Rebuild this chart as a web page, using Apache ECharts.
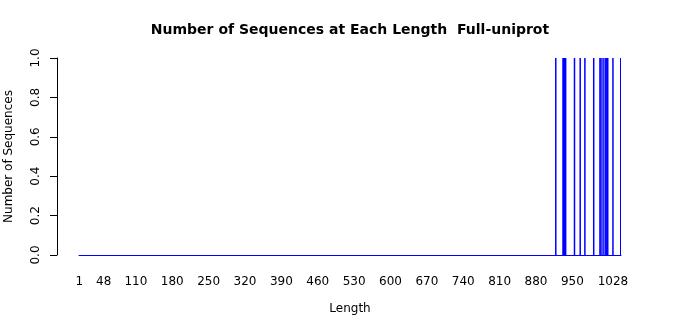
<!DOCTYPE html>
<html>
<head>
<meta charset="utf-8">
<script src="https://cdn.jsdelivr.net/npm/echarts@6/dist/echarts.min.js"></script>
<style>html,body{margin:0;padding:0;background:#fff}#c{width:700px;height:315px}</style>
</head>
<body>
<div id="c"></div>
<script>
// Length range shown on the category axis
var minLength = 1;
var maxLength = 1043;
// Lengths that have sequences, and their counts
var seqLengths = [918, 932, 933, 934, 935, 936, 937, 954, 965, 974, 991, 1003, 1005, 1009, 1013, 1015, 1017, 1018, 1028, 1043];
var seqCounts  = [1, 1, 1, 1, 1, 1, 1, 1, 1, 1, 1, 1, 1, 1, 1, 1, 1, 1, 1, 1];
// Tick labels shown on the x axis
var tickLabels = ['1', '48', '110', '180', '250', '320', '390', '460', '530', '600', '670', '740', '810', '880', '950', '1028'];

var categories = [];
var values = [];
var countMap = {};
seqLengths.forEach(function (l, i) { countMap[l] = seqCounts[i]; });
for (var l = minLength; l <= maxLength; l++) {
  categories.push(String(l));
  values.push(countMap[l] || 0);
}

var chart = echarts.init(document.getElementById('c'), null, {renderer: 'canvas'});
var font = 'DejaVu Sans';
chart.setOption({
  animation: false,
  backgroundColor: '#ffffff',
  title: {
    text: 'Number of Sequences at Each Length  Full-uniprot',
    left: 'center',
    top: 18,
    textStyle: {fontFamily: font, fontSize: 14, fontWeight: 'bold', color: '#000'}
  },
  grid: {left: 79, right: 79, top: 58, bottom: 60, outerBoundsMode: 'none', containLabel: false},
  xAxis: {
    type: 'category',
    data: categories,
    name: 'Length',
    nameLocation: 'middle',
    nameGap: 48,
    nameTextStyle: {fontFamily: font, fontSize: 12, color: '#000'},
    axisLine: {show: true, lineStyle: {color: '#0000ff', width: 1}},
    axisTick: {show: false},
    axisLabel: {
      show: true,
      interval: function (idx, val) { return tickLabels.indexOf(val) >= 0; },
      margin: 21,
      fontFamily: font, fontSize: 12, color: '#000'
    },
    splitLine: {show: false}
  },
  yAxis: {
    type: 'value',
    min: 0, max: 1, interval: 0.2,
    offset: 22,
    name: 'Number of Sequences',
    nameLocation: 'middle',
    nameGap: 42,
    nameRotate: 90,
    nameTextStyle: {fontFamily: font, fontSize: 12, color: '#000'},
    axisLine: {show: true, lineStyle: {color: '#000', width: 1}},
    axisTick: {show: true, length: 7, lineStyle: {color: '#000'}},
    axisLabel: {
      rotate: 90, margin: 15,
      fontFamily: font, fontSize: 12, color: '#000',
      formatter: function (v) { return v.toFixed(1); }
    },
    splitLine: {show: false}
  },
  series: [{
    type: 'bar',
    data: values,
    barWidth: 1.5,
    itemStyle: {color: '#0000ff'}
  }]
});
</script>
</body>
</html>
